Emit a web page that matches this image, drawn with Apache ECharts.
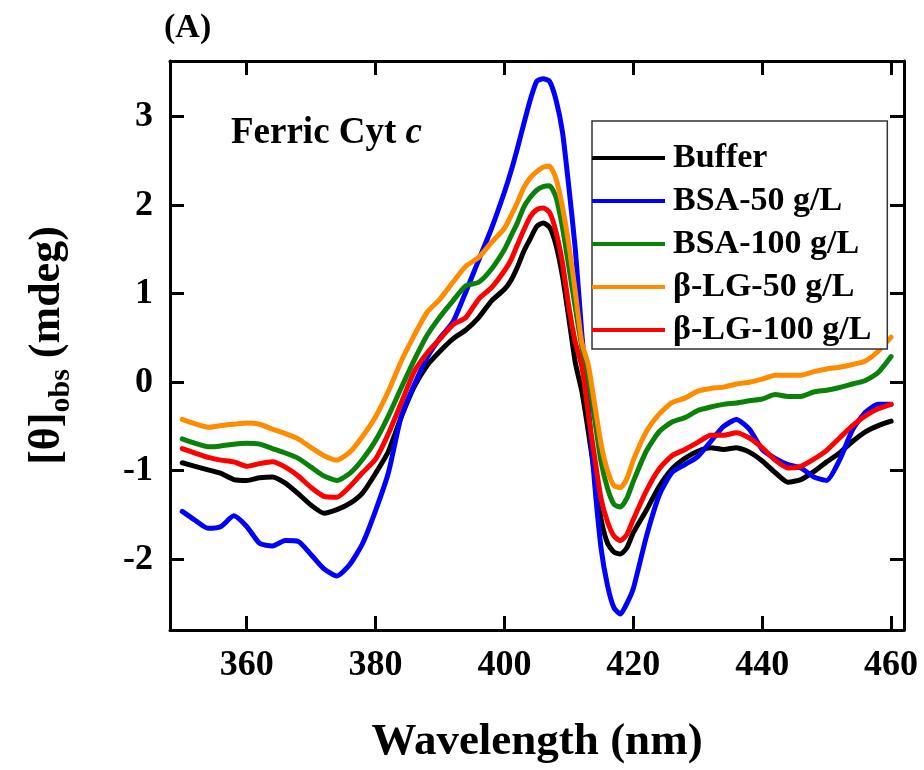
<!DOCTYPE html>
<html>
<head>
<meta charset="utf-8">
<script src="https://cdn.jsdelivr.net/npm/echarts@6/dist/echarts.min.js"></script>
<style>
  html, body { margin: 0; padding: 0; background: #fff; }
  #chart { width: 924px; height: 770px; }
</style>
</head>
<body>
<div id="chart"></div>
<script>
// Ferric cytochrome c Soret-region CD spectra under crowding conditions
const wavelength = [
  350,352,354,356,358,360,362,364,366,368,370,372,374,376,378,380,382,384,386,388,390,392,394,396,398,
  400,401,402,403,404,405,406,407,408,409,410,411,412,413,414,415,416,417,418,419,420,
  422,424,426,428,430,432,434,436,438,440,442,444,446,448,450,452,454,456,458,460
];

const buffer = [
  -0.91,-0.95,-0.99,-1.03,-1.10,-1.11,-1.08,-1.07,-1.14,-1.26,-1.39,-1.48,-1.44,-1.37,-1.25,-1.03,-0.78,-0.39,-0.05,0.19,0.35,0.49,0.59,0.73,0.92,
  1.05,1.15,1.30,1.48,1.62,1.76,1.80,1.75,1.55,1.20,0.72,0.22,-0.10,-0.55,-1.05,-1.55,-1.82,-1.92,-1.94,-1.87,-1.70,
  -1.45,-1.18,-0.98,-0.86,-0.78,-0.74,-0.76,-0.74,-0.79,-0.89,-1.02,-1.13,-1.10,-1.01,-0.90,-0.80,-0.67,-0.56,-0.49,-0.44
];

const bsa50 = [
  -1.46,-1.56,-1.65,-1.63,-1.51,-1.63,-1.82,-1.85,-1.79,-1.80,-1.95,-2.11,-2.19,-2.06,-1.82,-1.45,-1.02,-0.38,-0.03,0.28,0.50,0.68,1.02,1.38,1.74,
  2.15,2.38,2.64,2.92,3.19,3.40,3.43,3.40,3.19,2.83,2.20,1.50,0.55,-0.25,-1.15,-1.88,-2.30,-2.55,-2.62,-2.50,-2.33,
  -1.75,-1.28,-1.02,-0.93,-0.84,-0.67,-0.50,-0.42,-0.53,-0.76,-0.86,-0.93,-0.97,-1.07,-1.11,-0.88,-0.54,-0.34,-0.25,-0.25
];

const bsa100 = [
  -0.64,-0.69,-0.73,-0.72,-0.70,-0.69,-0.70,-0.75,-0.80,-0.86,-0.96,-1.06,-1.11,-1.03,-0.87,-0.66,-0.38,-0.06,0.25,0.53,0.74,0.92,1.09,1.13,1.28,
  1.50,1.65,1.80,1.98,2.09,2.17,2.21,2.22,2.09,1.75,1.30,0.84,0.40,0.05,-0.42,-0.90,-1.20,-1.38,-1.41,-1.31,-1.12,
  -0.78,-0.56,-0.45,-0.40,-0.32,-0.28,-0.25,-0.235,-0.21,-0.19,-0.14,-0.16,-0.16,-0.11,-0.09,-0.06,-0.02,0.02,0.11,0.29
];

const blg50 = [
  -0.42,-0.47,-0.51,-0.49,-0.475,-0.46,-0.475,-0.53,-0.58,-0.64,-0.74,-0.83,-0.88,-0.79,-0.61,-0.39,-0.10,0.24,0.53,0.79,0.94,1.13,1.31,1.41,1.58,
  1.74,1.88,2.03,2.20,2.31,2.38,2.43,2.44,2.30,1.98,1.55,1.02,0.45,0.20,-0.25,-0.70,-1.00,-1.17,-1.19,-1.09,-0.88,
  -0.56,-0.36,-0.23,-0.18,-0.10,-0.07,-0.055,-0.02,0.00,0.035,0.08,0.08,0.08,0.12,0.15,0.17,0.20,0.24,0.35,0.51
];

const blg100 = [
  -0.75,-0.80,-0.85,-0.88,-0.90,-0.95,-0.92,-0.90,-0.96,-1.06,-1.19,-1.29,-1.30,-1.18,-1.02,-0.87,-0.58,-0.23,0.12,0.33,0.49,0.65,0.73,0.94,1.07,
  1.26,1.38,1.55,1.72,1.87,1.95,1.97,1.92,1.70,1.35,0.85,0.45,0.18,-0.35,-0.85,-1.32,-1.58,-1.74,-1.79,-1.72,-1.55,
  -1.23,-0.98,-0.83,-0.76,-0.68,-0.60,-0.60,-0.57,-0.63,-0.74,-0.88,-0.97,-0.95,-0.87,-0.77,-0.63,-0.49,-0.38,-0.30,-0.25
];

const seriesNames = ['Buffer', 'BSA-50 g/L', 'BSA-100 g/L', 'β-LG-50 g/L', 'β-LG-100 g/L'];
const seriesValues = [buffer, bsa50, bsa100, blg50, blg100];
const seriesColors = ['#000000', '#0000ff', '#0a820a', '#ff8c00', '#ff0000'];

const xTicks = [360, 380, 400, 420, 440, 460];
const yTicks = [-2, -1, 0, 1, 2, 3];

const FONT = '"Liberation Serif", "Times New Roman", serif';

const chart = echarts.init(document.getElementById('chart'), null, { renderer: 'canvas' });

function frameAxis(extra) {
  return Object.assign({
    type: 'value',
    splitLine: { show: false },
    axisLine: { show: true, onZero: false, lineStyle: { color: '#000', width: 3 } }
  }, extra);
}

function insideTicks(values) {
  return { show: true, inside: true, length: 14, customValues: values, lineStyle: { color: '#000', width: 3 } };
}

const xRange = { min: 348.1, max: 462 };
const yRange = { min: -2.8, max: 3.63 };

const option = {
  backgroundColor: '#ffffff',
  animation: false,
  grid: { left: 170, right: 20, top: 61, bottom: 132, containLabel: false },
  xAxis: [
    frameAxis(Object.assign({
      position: 'bottom',
      axisTick: insideTicks(xTicks),
      axisLabel: {
        customValues: xTicks, margin: 18, color: '#000',
        fontFamily: FONT, fontWeight: 'bold', fontSize: 36
      },
      name: 'Wavelength (nm)',
      nameLocation: 'middle',
      nameGap: 90,
      nameTextStyle: { fontFamily: FONT, fontWeight: 'bold', fontSize: 45, color: '#000' }
    }, xRange)),
    frameAxis(Object.assign({
      position: 'top',
      axisTick: insideTicks(xTicks),
      axisLabel: { show: false }
    }, xRange))
  ],
  yAxis: [
    frameAxis(Object.assign({
      position: 'left',
      axisTick: insideTicks(yTicks),
      axisLabel: {
        customValues: yTicks, margin: 17, color: '#000',
        fontFamily: FONT, fontWeight: 'bold', fontSize: 36
      },
      name: '{a|[θ]}{sub|obs}{a| (mdeg)}',
      nameLocation: 'middle',
      nameRotate: 90,
      nameGap: 94,
      nameTextStyle: {
        rich: {
          a: { fontFamily: FONT, fontWeight: 'bold', fontSize: 44, color: '#000', lineHeight: 56, verticalAlign: 'middle' },
          sub: { fontFamily: FONT, fontWeight: 'bold', fontSize: 30, color: '#000', lineHeight: 30, verticalAlign: 'bottom' }
        }
      }
    }, yRange)),
    frameAxis(Object.assign({
      position: 'right',
      axisTick: insideTicks(yTicks),
      axisLabel: { show: false }
    }, yRange))
  ],
  legend: {
    orient: 'vertical',
    left: 592,
    top: 121,
    padding: [20, 16, 2, 0],
    itemGap: 9,
    itemWidth: 73,
    itemHeight: 14,
    backgroundColor: '#ffffff',
    borderColor: '#333',
    borderWidth: 1.5,
    borderRadius: 0,
    data: seriesNames.map((n, i) => ({
      name: n,
      icon: 'path://M0,6 L73,6 L73,10 L0,10 Z',
      itemStyle: { color: seriesColors[i] }
    })),
    textStyle: { fontFamily: FONT, fontWeight: 'bold', fontSize: 34, color: '#000', padding: [0, 0, 0, 3] }
  },
  graphic: [
    {
      type: 'text', left: 164, top: 11,
      style: { text: '(A)', fontFamily: FONT, fontWeight: 'bold', fontSize: 34, fill: '#000' }
    },
    {
      type: 'text', left: 231, top: 115,
      style: {
        text: '{r|Ferric Cyt }{i|c}',
        rich: {
          r: { fontFamily: FONT, fontWeight: 'bold', fontSize: 37, fill: '#000' },
          i: { fontFamily: FONT, fontWeight: 'bold', fontStyle: 'italic', fontSize: 37, fill: '#000' }
        }
      }
    }
  ],
  series: seriesNames.map((name, i) => ({
    name: name,
    type: 'line',
    xAxisIndex: 0,
    yAxisIndex: 0,
    data: wavelength.map((w, k) => [w, seriesValues[i][k]]),
    showSymbol: false,
    symbol: 'none',
    smooth: 0.2,
    clip: true,
    lineStyle: { color: seriesColors[i], width: 5, cap: 'round', join: 'round' },
    itemStyle: { color: seriesColors[i] },
    emphasis: { disabled: true }
  }))
};

chart.setOption(option);
</script>
</body>
</html>
